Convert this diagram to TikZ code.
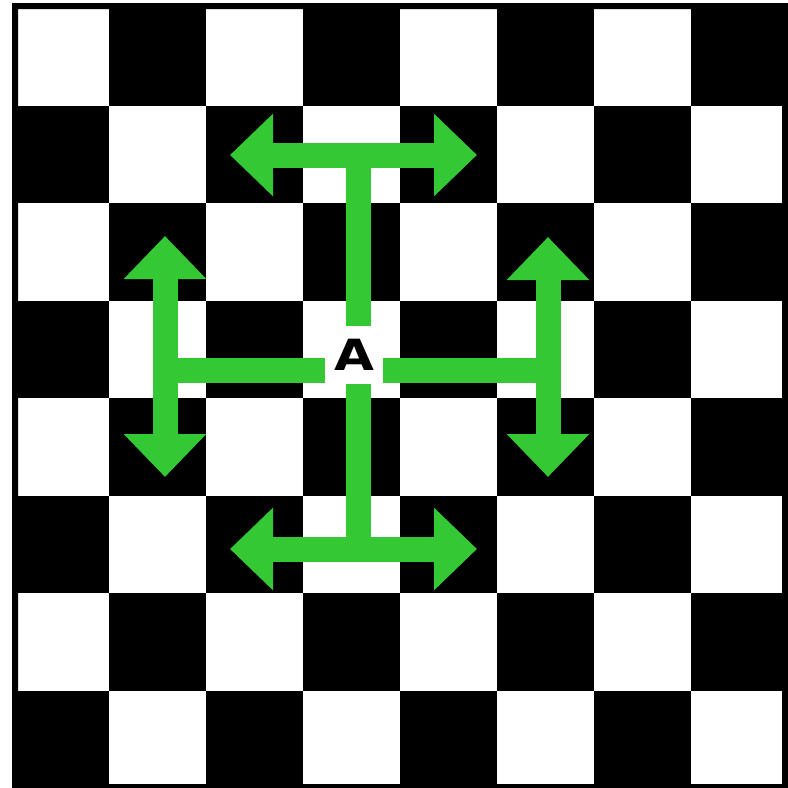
\documentclass[tikz,border=0pt]{standalone}
\usepackage{fontspec}
\setsansfont{DejaVu Sans}
\usepackage{tikz}
\usetikzlibrary{arrows.meta,calc}
\definecolor{movegreen}{RGB}{52,200,52}
\tikzset{
  leg/.style={movegreen,line width=25pt},
  reach/.style={movegreen,line width=25pt,{Triangle[length=43pt,width=80pt]}-{Triangle[length=43pt,width=80pt]}},
  piece/.style={inner sep=0pt,minimum width=57pt,minimum height=57pt,font=\sffamily\bfseries\fontsize{43}{43}\selectfont},
}

\begin{document}
\begin{tikzpicture}[x=1pt,y=-1pt]
  \useasboundingbox (0,0) rectangle (788,788);
  \fill[white] (0,0) rectangle (788,788);
  % board
  \foreach \r in {0,...,7}
    \foreach \c in {0,...,7}{
      \pgfmathtruncatemacro{\odd}{mod(\r+\c,2)}
      \ifnum\odd=1
        \fill[black] (12+97*\c,8+97.5*\r) rectangle ++(97,97.5);
      \fi
    }
  \fill[black,even odd rule] (12,3) rectangle (788,788) (18,9) rectangle (782,784);

  \node[piece] (A) at (354,355) {\scalebox{1.2}[1]{A}};

  % ends of the moves
  \coordinate (tl) at (230,155); \coordinate (tr) at (477,155); \coordinate (tj) at (358,155);
  \coordinate (bl) at (230,549); \coordinate (br) at (477,549); \coordinate (bj) at (358,549);
  \coordinate (lt) at (165,236); \coordinate (lb) at (165,477); \coordinate (lj) at (165,370);
  \coordinate (rt) at (548,237); \coordinate (rb) at (548,477); \coordinate (rj) at (548,370);

  \draw[leg] (A.north -| tj) -- (tj);
  \draw[leg] (A.south -| bj) -- (bj);
  \draw[leg] (A.west |- lj) -- (lj);
  \draw[leg] (A.east |- rj) -- (rj);
  \draw[reach] (tl) -- (tr);
  \draw[reach] (bl) -- (br);
  \draw[reach] (lt) -- (lb);
  \draw[reach] (rt) -- (rb);
\end{tikzpicture}
\end{document}
